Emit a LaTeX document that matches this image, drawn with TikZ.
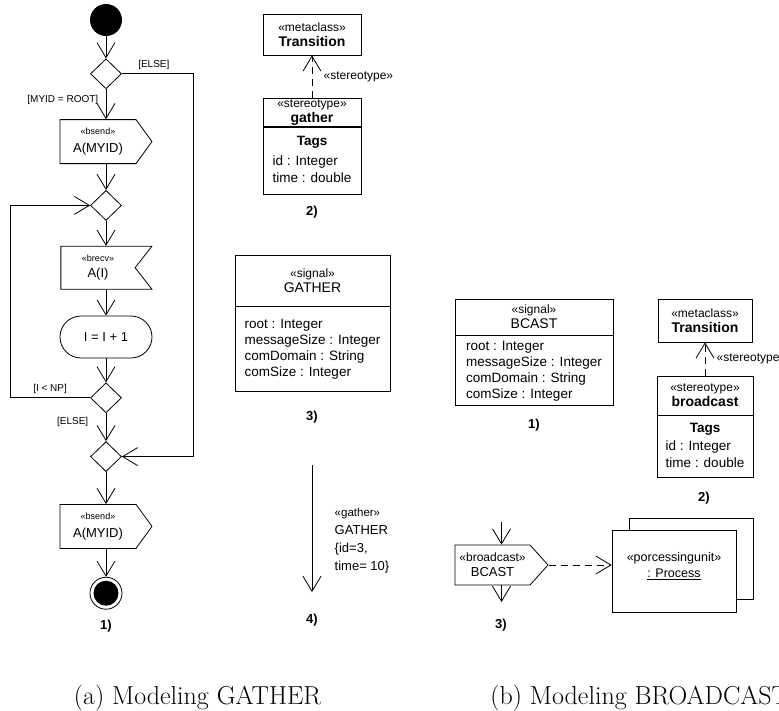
\documentclass[tikz,border=0pt]{standalone}
\usepackage{fontspec}
\setsansfont{Liberation Sans}
\usetikzlibrary{arrows.meta,positioning,shapes.geometric,shapes.symbols,calc}

\newcommand{\fsz}[2]{\fontsize{#1}{#2}\selectfont}

\begin{document}
\begin{tikzpicture}[
  x=1pt, y=-1pt,
  line width=0.8pt,
  font=\sffamily\fsz{13}{15},
  arr/.style={-{Straight Barb[length=15pt,width=18pt]}},
  dasharr/.style={arr, dash pattern=on 7pt off 5pt},
  startnode/.style={circle, fill=black, minimum size=32pt, inner sep=0pt},
  endnode/.style={circle, draw, minimum size=32pt, inner sep=0pt,
                  path picture={\fill (path picture bounding box.center) circle (12.5pt);}},
  decision/.style={diamond, draw, minimum width=31pt, minimum height=30pt, inner sep=0pt},
  sendsig/.style={signal, signal to=east, signal pointer angle=108, draw, align=center,
                  minimum width=92pt, minimum height=44pt, inner sep=2pt},
  recvsig/.style={signal, signal to=nowhere, signal from=east, signal pointer angle=104, draw,
                  align=center, minimum width=91pt, minimum height=43pt, inner sep=2pt},
  action/.style={rectangle, draw, rounded corners=21pt, minimum width=92pt, minimum height=42pt},
  classbox/.style={rectangle, draw, align=center, inner sep=2pt},
  guard/.style={font=\sffamily\fsz{10}{12}},
  stereo/.style={font=\sffamily\fsz{12}{14}},
  tag/.style={font=\sffamily\bfseries\fsz{13}{15}},
  caption/.style={font=\rmfamily\fsz{26}{30}, inner sep=0pt},
]
\useasboundingbox (0,0) rectangle (779,710);

% (a) activity diagram
\node[startnode]                  (start) at (106,20) {};
\node[decision, below=22pt of start] (dec1)  {};
\node[sendsig,  below=30pt of dec1, xshift=-8pt]  (send1) {{\fsz{9}{11}«bsend»}\\[3pt]A(MYID)};
\node[decision, below=26pt of send1.south -| dec1] (dec2)  {};
\node[recvsig,  below=25pt of dec2, xshift=-8pt]  (recv1) {{\fsz{9}{11}«brecv»}\\[1pt]A(I)};
\node[action,   below=26pt of recv1.south -| dec2] (incr)  {I = I + 1};
\node[decision, below=24pt of incr]  (dec3)  {};
\node[decision, below=28pt of dec3]  (dec4)  {};
\node[sendsig,  below=32pt of dec4, xshift=-8pt]  (send2) {{\fsz{9}{11}«bsend»}\\[3pt]A(MYID)};
\node[endnode,  below=28pt of send2.south -| dec4] (stop)  {};
\node[tag] (tagA1) at (106,626) {1)};

\coordinate[right=71pt of dec1.east] (elsecorner);
\coordinate[left=80pt of dec3.west]  (loopcorner);

\draw[arr] (start) -- (dec1);
\draw[arr] (dec1) -- node[guard, left, pos=0.35, xshift=-4pt] {[MYID = ROOT]} (dec1 |- send1.north);
\draw[arr] (dec1.east) -- node[guard, above, pos=0.45] {[ELSE]} (elsecorner) |- (dec4.east);
\draw[arr] (send1.south -| dec2) -- (dec2);
\draw[arr] (dec2) -- (dec2 |- recv1.north);
\draw[arr] (recv1.south -| incr) -- (incr);
\draw[arr] (incr) -- (dec3);
\draw[arr] (dec3.west) -- node[guard, above] {[I < NP]} (loopcorner) |- (dec2.west);
\draw[arr] (dec3) -- node[guard, left, pos=0.3, xshift=-14pt] {[ELSE]} (dec4);
\draw[arr] (dec4) -- (dec4 |- send2.north);
\draw[arr] (send2.south -| stop) -- (stop);

% (a) profile, signal and message
\node[classbox, minimum width=98pt, minimum height=41pt] (meta1) at (312,34.5)
  {{\fsz{12}{14}«metaclass»}\\{\bfseries\fsz{14}{16}Transition}};
\node[classbox, minimum width=98pt, minimum height=27pt, inner ysep=1pt] (gstereo) at (312,112.5)
  {{\fsz{12}{13}«stereotype»}\\{\bfseries\fsz{14}{15}gather}};
\node[classbox, minimum width=98pt, minimum height=67pt, below=0pt of gstereo] (gtags)
  {\fsz{13.5}{17}\begin{tabular}{@{}l@{}}\multicolumn{1}{@{}c@{}}{\bfseries Tags}\\[3pt]
   id : Integer\\ time : double\end{tabular}};
\draw[dasharr] (gstereo) -- node[stereo, right, xshift=8pt] {«stereotype»} (meta1);
\node[tag] (tagA2) at (312,212) {2)};

\node[classbox, minimum width=155pt, minimum height=51pt] (gsig) at (312.5,280.5)
  {{\fsz{12}{15}«signal»}\\{\fsz{14}{15}GATHER}};
\node[classbox, minimum width=155pt, minimum height=85pt, align=left, font=\sffamily\fsz{13.5}{16},
      below=0pt of gsig] (gattr)
  {root : Integer\\messageSize : Integer\\comDomain : String\\comSize : Integer};
\node[tag] (tagA3) at (312,417) {3)};

\coordinate (msgtop) at (312,465);
\coordinate (msgend) at (312,592);
\draw[arr] (msgtop) -- (msgend);
\node[align=left, anchor=west, font=\sffamily\fsz{13}{18}] (msglbl) at (331,541)
  {{\fsz{11.5}{12}«gather»}\\GATHER\\\{id=3,\\time= 10\}};
\node[tag] (tagA4) at (312,620) {4)};

% (b) broadcast
\node[classbox, minimum width=158pt, minimum height=36pt, inner ysep=1pt] (bsigcls) at (534,317)
  {{\fsz{12}{15}«signal»}\\{\fsz{14}{15}BCAST}};
\node[classbox, minimum width=158pt, minimum height=70pt, align=left, font=\sffamily\fsz{13.5}{16},
      below=0pt of bsigcls] (battr)
  {root : Integer\\messageSize : Integer\\comDomain : String\\comSize : Integer};
\node[tag] (tagB1) at (534,425) {1)};

\node[classbox, minimum width=94pt, minimum height=43pt] (meta2) at (705,320.5)
  {{\fsz{12}{14}«metaclass»}\\{\bfseries\fsz{14}{16}Transition}};
\node[classbox, minimum width=96pt, minimum height=39pt] (bstereo) at (705,395.5)
  {{\fsz{12}{16}«stereotype»}\\{\bfseries\fsz{14}{16}broadcast}};
\node[classbox, minimum width=96pt, minimum height=62pt, below=0pt of bstereo] (btags)
  {\fsz{13.5}{17}\begin{tabular}{@{}l@{}}\multicolumn{1}{@{}c@{}}{\bfseries Tags}\\[1pt]
   id : Integer\\ time : double\end{tabular}};
\draw[dasharr] (bstereo) -- node[stereo, right, xshift=8pt] {«stereotype»} (meta2);
\node[tag] (tagB2) at (704,498) {2)};

\coordinate (bintop)  at (501.5,522);
\coordinate (boutend) at (501.5,602);
\node[sendsig, signal pointer angle=96, minimum width=93pt, minimum height=40pt] (bsend) at (492.5,565)
  {{\fsz{12}{14}«broadcast»}\\BCAST};
\draw[arr] (bintop) -- (bintop |- bsend.north);
\draw[arr] (boutend |- bsend.south) -- (boutend);
\node[tag] (tagB3) at (501,625) {3)};

\node[classbox, minimum width=124pt, minimum height=81pt] (procback) at (691,558.5) {};
\node[classbox, fill=white, minimum width=124pt, minimum height=82pt, font=\sffamily\fsz{12.5}{16}] (proc) at (674,571)
  {«porcessingunit»\\\underline{: Process}\\[-4pt]\mbox{}};
\draw[dasharr] (bsend.east) -- (bsend.east -| proc.west);

% captions
\node[caption, anchor=base]      (capA) at (197.5,704) {(a) Modeling GATHER};
\node[caption, anchor=base west] (capB) at (490,704)   {(b) Modeling BROADCAST};

\end{tikzpicture}
\end{document}
